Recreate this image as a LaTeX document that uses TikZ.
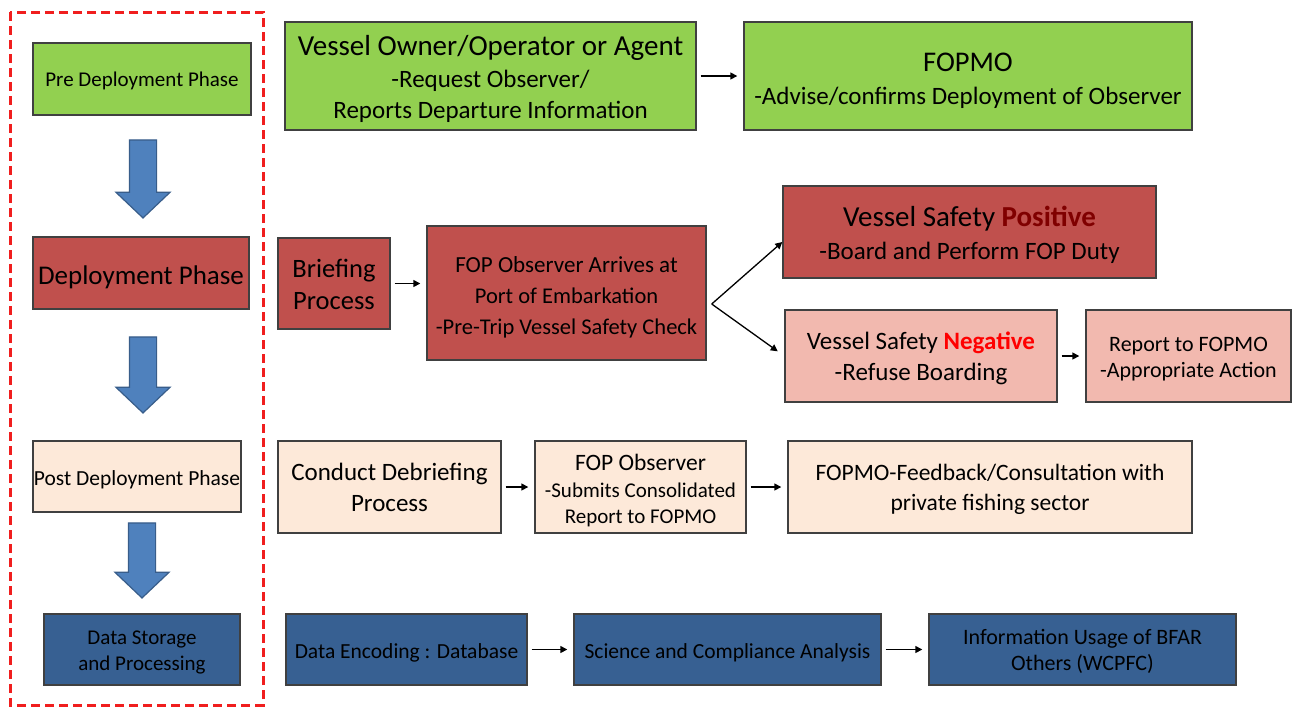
\documentclass[tikz,border=0pt]{standalone}
\usepackage{fontspec}
\setmainfont{Carlito}
\usetikzlibrary{shapes.arrows,arrows.meta,calc}
\definecolor{gr}{HTML}{92D050}
\definecolor{dr}{HTML}{C0504D}
\definecolor{pk}{HTML}{F2B9AF}
\definecolor{pc}{HTML}{FDE9D9}
\definecolor{db}{HTML}{376092}
\definecolor{ab}{HTML}{4F81BD}
\definecolor{abd}{HTML}{385D8A}
\definecolor{bd}{HTML}{404040}
\definecolor{posc}{HTML}{800000}
\definecolor{dashred}{HTML}{F01E1E}
\newcommand\fs[2]{\fontsize{#1}{#2}\selectfont}
\newcommand\tp[1]{\rule{0pt}{\dimexpr 0.68em+#1pt\relax}}
\begin{document}
\begin{tikzpicture}[x=1pt,y=-1pt,
  box/.style={draw=bd, line width=1.4pt, inner sep=0pt, align=center, text=black},
  conn/.style={-{Triangle[length=7pt,width=7pt]}, line width=1.5pt, shorten <=4pt, shorten >=6pt},
  brch/.style={-{Triangle[length=7pt,width=7pt]}, line width=1.3pt},
  bigarrow/.style={single arrow, draw=abd, fill=ab, line width=1.2pt, minimum width=53pt,
    single arrow head extend=13.5pt, single arrow tip angle=93, single arrow head indent=0pt,
    inner sep=0pt, text height=26pt, text depth=0pt, rotate=-90}]
\fill[white] (0,0) rectangle (1293,707);
\useasboundingbox (0,0) rectangle (1293,707);

% phase column
\draw[draw=dashred, line width=3pt, dash pattern=on 9pt off 5pt] (10,12) rectangle (263,705);
\node[box, fill=gr, minimum width=218pt, minimum height=72pt, font=\fs{21}{25}] (pre) at (142,79) {\tp{4}Pre Deployment Phase};
\node[box, fill=dr, minimum width=216pt, minimum height=72pt, font=\fs{27}{32}] (dep) at (141,273) {\tp{8}Deployment Phase};
\node[box, fill=pc, minimum width=208pt, minimum height=71pt, font=\fs{21.5}{25}] (post) at (137,476.5) {\tp{6}Post Deployment Phase};
\node[box, fill=db, minimum width=196pt, minimum height=71pt, font=\fs{21}{26}] (store) at (142,649.5) {\tp{6}Data Storage\\and Processing};

\node[bigarrow, minimum height=78pt] (a1) at (143,172.5) {};
\node[bigarrow, minimum height=76pt] (a2) at (143,368.5) {};
\node[bigarrow, minimum height=75pt] (a3) at (142,554) {};

% row 1
\node[box, fill=gr, minimum width=411pt, minimum height=108pt, font=\fs{25}{31.5}] (vo) at (490.5,76)
  {\fs{29}{31.5}\tp{7}Vessel Owner/Operator or Agent\\-Request Observer/\\Reports Departure Information};
\node[box, fill=gr, minimum width=448pt, minimum height=108pt, font=\fs{25}{33}] (fopmo) at (968,76)
  {\fs{28.5}{33}\tp{9}FOPMO\\-Advise/confirms Deployment of Observer};

% row 2
\node[box, fill=dr, minimum width=112pt, minimum height=91pt, font=\fs{26.5}{32}] (brief) at (334,283.5)
  {\tp{3}Briefing\\Process};
\node[box, fill=dr, minimum width=279pt, minimum height=134pt, font=\fs{22.5}{31}] (arrive) at (566.5,293)
  {\fs{23}{31}\tp{9}FOP Observer Arrives at\\Port of Embarkation\\-Pre-Trip Vessel Safety Check};
\node[box, fill=dr, minimum width=373pt, minimum height=92pt, font=\fs{25}{33}] (pos) at (969.5,232)
  {\fs{29}{33}\tp{7}Vessel Safety \textcolor{posc}{\bfseries Positive}\\-Board and Perform FOP Duty};
\node[box, fill=pk, minimum width=272pt, minimum height=92pt, font=\fs{25}{31}] (neg) at (921,356)
  {\tp{6}Vessel Safety \textcolor{red}{\bfseries Negative}\\-Refuse Boarding};
\node[box, fill=pk, minimum width=205pt, minimum height=92pt, font=\fs{22}{26}] (rep) at (1188.5,356)
  {\tp{6}Report to FOPMO\\-Appropriate Action};

% row 3
\node[box, fill=pc, minimum width=223pt, minimum height=92pt, font=\fs{25}{31}] (deb) at (389.5,487)
  {Conduct Debriefing\\Process};
\node[box, fill=pc, minimum width=211pt, minimum height=92pt, font=\fs{21}{26.5}] (obs) at (640.5,487)
  {\fs{23.5}{26.5}\tp{8}FOP Observer\\-Submits Consolidated\\Report to FOPMO};
\node[box, fill=pc, minimum width=404pt, minimum height=92pt, font=\fs{23.5}{30}] (fb) at (990,487)
  {\tp{6}FOPMO-Feedback/Consultation with\\private fishing sector};

% row 4
\node[box, fill=db, minimum width=241pt, minimum height=71pt, font=\fs{21.5}{26}] (enc) at (406.5,649.5)
  {\tp{8}Data Encoding : Database};
\node[box, fill=db, minimum width=307pt, minimum height=71pt, font=\fs{21.5}{26}] (sci) at (727.5,649.5)
  {\tp{6}Science and Compliance Analysis};
\node[box, fill=db, minimum width=307pt, minimum height=71pt, font=\fs{22}{26}] (info) at (1082.5,649.5)
  {\tp{4}Information Usage of BFAR\\Others (WCPFC)};

% connectors
\draw[conn] (vo) -- (fopmo);
\draw[conn] (brief.east) -- (brief.east -| arrive.west);
\draw[conn] (neg) -- (rep);
\draw[conn] (deb) -- (obs);
\draw[conn] (obs) -- (fb);
\draw[conn] (enc) -- (sci);
\draw[conn] (sci) -- (info);
\coordinate (split) at ($(arrive.east)+(5,11)$);
\draw[brch] (split) -- ([yshift=-10pt]pos.west);
\draw[brch, shorten >=8pt] (split) -- (neg.west);
\end{tikzpicture}
\end{document}
